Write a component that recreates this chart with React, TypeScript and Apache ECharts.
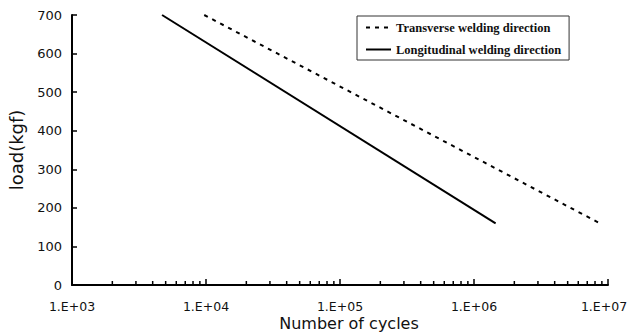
import React, { useEffect, useRef } from "react";
import * as echarts from "echarts";

// Data
const transverseCycles = [9700, 8700000];
const transverseLoad = [700, 160];
const longitudinalCycles = [4700, 1450000];
const longitudinalLoad = [700, 160];

const seriesNames = ["Transverse welding direction", "Longitudinal welding direction"];

// Axis ticks
const yTicks = [0, 100, 200, 300, 400, 500, 600, 700];
const decades = [1000, 10000, 100000, 1000000];
const minorMultipliers = [2, 3, 4, 5, 6, 7, 8, 9];

export default function App() {
  const ref = useRef<HTMLDivElement>(null);

  useEffect(() => {
    document.body.style.margin = "0";
    if (!ref.current) return;
    const chart = echarts.init(ref.current, null, { renderer: "svg" });

    const minorTicks: number[][] = [];
    decades.forEach((d) => minorMultipliers.forEach((m) => minorTicks.push([d * m, 0])));

    const sans = "DejaVu Sans";

    chart.setOption({
      animation: false,
      backgroundColor: "#fff",
      grid: { left: 72, right: 21, top: 15, bottom: 49, containLabel: false, outerBoundsMode: "none" },
      legend: {
        orient: "vertical",
        left: 357,
        top: 16,
        padding: [5, 8, 4, 8],
        itemWidth: 25,
        itemHeight: 14,
        itemGap: 9,
        selectedMode: false,
        borderColor: "#333",
        borderWidth: 1,
        backgroundColor: "#fff",
        itemStyle: { opacity: 0 },
        data: seriesNames,
        textStyle: {
          fontFamily: "Liberation Serif",
          fontSize: 12.5,
          fontWeight: "bold",
          color: "#111",
        },
      },
      xAxis: {
        type: "log",
        logBase: 10,
        min: 1000,
        max: 10000000,
        splitNumber: 4,
        name: "Number of cycles",
        nameLocation: "middle",
        nameGap: 30,
        nameMoveOverlap: false,
        nameTextStyle: { fontFamily: sans, fontSize: 16, color: "#111", padding: [0, 0, 0, 18] },
        axisLine: { lineStyle: { color: "#000", width: 2 } },
        axisTick: { inside: true, length: 6, lineStyle: { color: "#000", width: 1.5 } },
        axisLabel: {
          fontFamily: sans,
          fontSize: 12.5,
          color: "#111",
          margin: 15,
          formatter: (v: number) => {
            const e = Math.round(Math.log10(v));
            const s = "1.E+" + (e < 10 ? "0" + e : String(e));
            return e >= 7 ? "{last|" + s + "}" : s;
          },
          rich: {
            last: { fontFamily: sans, fontSize: 12.5, color: "#111", padding: [0, 8, 0, 0] },
          },
        },
        splitLine: { show: false },
      },
      yAxis: {
        type: "value",
        min: yTicks[0],
        max: yTicks[yTicks.length - 1],
        interval: 100,
        name: "load(kgf)",
        nameLocation: "middle",
        nameGap: 47,
        nameMoveOverlap: false,
        nameTextStyle: { fontFamily: sans, fontSize: 18, color: "#111" },
        axisLine: { show: true, lineStyle: { color: "#000", width: 2 } },
        axisTick: { show: true, inside: true, length: 5, lineStyle: { color: "#000", width: 1.5 } },
        axisLabel: { fontFamily: sans, fontSize: 13, color: "#111", margin: 10 },
        splitLine: { show: false },
      },
      series: [
        {
          name: seriesNames[0],
          type: "line",
          symbol: "none",
          data: transverseCycles.map((c, i) => [c, transverseLoad[i]]),
          lineStyle: { color: "#000", width: 2, type: [4, 5] },
          itemStyle: { color: "#000" },
        },
        {
          name: seriesNames[1],
          type: "line",
          symbol: "none",
          data: longitudinalCycles.map((c, i) => [c, longitudinalLoad[i]]),
          lineStyle: { color: "#000", width: 2, type: "solid" },
          itemStyle: { color: "#000" },
        },
        {
          type: "custom",
          silent: true,
          data: minorTicks,
          renderItem: (params: any, api: any) => {
            const p = api.coord([api.value(0), api.value(1)]);
            return {
              type: "line",
              shape: { x1: p[0], y1: p[1], x2: p[0], y2: p[1] - 4 },
              style: { stroke: "#000", lineWidth: 1.5 },
            };
          },
        },
      ],
    });

    return () => chart.dispose();
  }, []);

  return <div ref={ref} style={{ width: 629, height: 334 }} />;
}
